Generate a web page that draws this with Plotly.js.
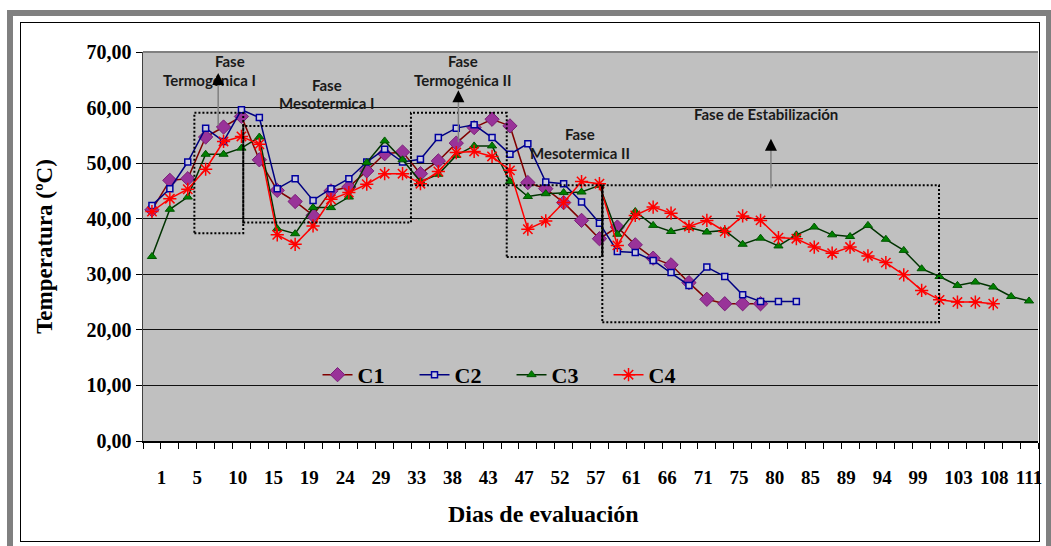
<!DOCTYPE html>
<html><head><meta charset="utf-8">
<script src="https://cdn.plot.ly/plotly-3.0.1.min.js"></script>
<style>
html,body{margin:0;padding:0;background:#fff;}
#wrap{position:relative;width:1051px;height:546px;overflow:hidden;}
#chart{position:absolute;left:0;top:0;width:1051px;height:546px;}
.frame1{position:absolute;left:7px;top:10px;width:1045px;height:545px;border:6px solid #808080;box-sizing:border-box;pointer-events:none;}
.frame2{position:absolute;left:20px;top:22px;width:1020px;height:520px;border:1px solid #000;box-sizing:border-box;pointer-events:none;}
</style></head>
<body><div id="wrap"><div id="chart"></div><div class="frame1"></div><div class="frame2"></div></div>
<script>
// Tick labels shown on the category axis (one label every two evaluations)
const dayLabels = ['1','5','10','15','19','24','29','33','38','43','47','52','57','61','66','71','75','80','85','89','94','99','103','108','111'];
const seriesNames = ['C1','C2','C3','C4'];
// Temperature (ºC) per evaluation
const c1 = [41.6,46.9,47.2,54.7,56.5,58.4,50.6,45.1,43.1,40.6,45.0,45.7,48.6,51.7,52.0,48.1,50.4,53.6,56.4,57.9,56.7,46.5,45.4,42.9,39.7,36.4,38.5,35.3,32.9,31.7,28.5,25.5,24.7,24.7,24.7];
const c2 = [42.4,45.4,50.2,56.3,53.9,59.6,58.2,45.4,47.2,43.3,45.4,47.2,50.2,52.5,50.2,50.7,54.6,56.3,56.9,54.6,51.6,53.5,46.6,46.3,43.0,39.2,34.1,33.9,32.5,30.3,28.0,31.3,29.6,26.3,25.1,25.1,25.1];
const c3 = [33.2,41.7,43.9,51.6,51.6,52.7,54.7,38.2,37.3,42.0,42.0,43.9,50.1,54.0,50.6,46.7,48.0,51.4,53.1,53.1,46.7,44.0,44.5,44.7,44.8,46.0,37.2,41.3,38.8,37.7,38.4,37.6,37.9,35.4,36.5,35.1,37.1,38.5,37.1,36.8,38.8,36.3,34.3,31.0,29.6,28.0,28.6,27.7,26.0,25.2];
const c4 = [41.3,43.6,45.3,48.9,53.9,54.8,53.4,37.1,35.4,38.7,43.5,44.7,46.2,48.1,48.1,46.3,48.5,51.9,52.1,51.2,48.7,38.1,39.6,42.9,46.7,46.3,35.2,40.6,42.1,41.0,38.6,39.7,37.7,40.5,39.7,36.6,36.4,34.9,33.8,34.9,33.3,32.1,29.9,27.1,25.4,25.0,25.0,24.7];

const nCats = dayLabels.length * 2;
const idx = arr => arr.map((v, i) => i);
const tickvals = dayLabels.map((d, i) => 2 * i + 0.5);

const styles = [
  {line:{color:'#800000',width:1.5}, marker:{symbol:'diamond',size:11,color:'#993399',line:{color:'#7a1f78',width:1}}},
  {line:{color:'#000080',width:1.5}, marker:{symbol:'square',size:6,color:'#c9c9dd',line:{color:'#0000a0',width:1.5}}},
  {line:{color:'#003300',width:1.5}, marker:{symbol:'triangle-up',size:8,color:'#008000',line:{color:'#005500',width:1}}},
  {line:{color:'#ff0000',width:1.5}, marker:{symbol:'asterisk-open',size:11,color:'#ff0000',line:{color:'#ff0000',width:1.5}}}
];
const data = [c1,c2,c3,c4].map((ys, k) => ({
  type:'scatter', mode:'lines+markers', name:seriesNames[k],
  x: idx(ys), y: ys, line: styles[k].line, marker: styles[k].marker, hoverinfo:'skip'
}));

const boxes = [
  [2.37,5.1,37.4,59.05],
  [5.1,14.47,39.3,56.7],
  [14.47,19.82,46.0,59.05],
  [19.82,25.16,33.1,46.0],
  [25.16,43.97,21.35,46.0]
];
const shapes = boxes.map(b => ({type:'rect', xref:'x', yref:'y', x0:b[0], x1:b[1], y0:b[2], y1:b[3],
  line:{color:'#000', width:2, dash:'2px,2px'}, fillcolor:'rgba(0,0,0,0)'}));
shapes.push({type:'line', xref:'x', yref:'y', x0:25.16, x1:25.16, y0:33.1, y1:46.0, line:{color:'#000', width:2}});
shapes.push({type:'line', xref:'paper', yref:'paper', x0:0, x1:1, y0:1, y1:1, line:{color:'#808080', width:2}});

const tf = {family:'Lato, "Open Sans", sans-serif', size:15, color:'#1a1a1a', weight:'bold'};
const texts = [
  [4.36,68.4,'Fase'],[3.24,64.95,'Termogénica I'],
  [9.76,64.05,'Fase'],[9.76,60.74,'Mesotermica I'],
  [17.36,68.4,'Fase'],[17.36,64.95,'Termogénica II'],
  [23.91,55.33,'Fase'],[23.91,51.9,'Mesotermica II'],
  [34.29,58.8,'Fase de Estabilización']
];
const annotations = texts.map(t => ({x:t[0], y:t[1], xref:'x', yref:'y', text:t[2], showarrow:false, font:tf}));
const arrows = [[3.7,66.2,56.5],[17.12,63.1,53.5],[34.58,54.4,45.2]];
arrows.forEach(a => {
  annotations.push({x:a[0], y:a[1]-1.5, ax:a[0], ay:a[2], xref:'x', yref:'y', axref:'x', ayref:'y', text:'', showarrow:true, arrowhead:0, arrowwidth:1.5, arrowcolor:'#808080'});
  annotations.push({x:a[0], y:a[1], xref:'x', yref:'y', ax:0, ay:11, text:'', showarrow:true, arrowhead:2, arrowsize:2.4, arrowwidth:1, arrowcolor:'#000'});
});

const serif = 'Liberation Serif, "Times New Roman", serif';
// x-axis title (placed as in the original, left of centre)
annotations.push({xref:'paper', yref:'paper', x:0.448, y:-0.188, xanchor:'center', yanchor:'middle', showarrow:false,
  text:'Dias de evaluación', font:{family:serif, size:24, color:'#000', weight:'bold'}});

const layout = {
  width:1051, height:546,
  paper_bgcolor:'#fff', plot_bgcolor:'#c0c0c0',
  margin:{l:143, r:13, t:52, b:105},
  separators:',.',
  showlegend:true,
  legend:{orientation:'h', x:0.195, y:0.17, xanchor:'left', yanchor:'middle', bgcolor:'rgba(0,0,0,0)',
    font:{family:serif, size:22, color:'#000', weight:'bold'}, entrywidth:52, entrywidthmode:'pixels', traceorder:'normal'},
  xaxis:{range:[-0.5, nCats - 0.5], tickmode:'array', tickvals:tickvals, ticktext:dayLabels, ticks:'',
    ticklabelposition:'outside right', ticklabelshift:-5, ticklabelstandoff:19, tickangle:0,
    tickfont:{family:serif, size:19, color:'#000', weight:'bold'},
    showgrid:false, zeroline:false, showline:true, linecolor:'#000', linewidth:1.5,
    minor:{tickmode:'linear', tick0:-0.5, dtick:1, ticks:'outside', ticklen:6, tickcolor:'#000', tickwidth:1, showgrid:false}},
  yaxis:{range:[0,70], dtick:10, tick0:0, tickformat:'.2f', ticks:'outside', ticklen:6, tickcolor:'#000',
    showgrid:true, gridcolor:'#111', gridwidth:1, zeroline:false, showline:true, linecolor:'#404040', linewidth:1.5,
    tickfont:{family:serif, size:20, color:'#000', weight:'bold'},
    title:{text:'Temperatura (ºC)', font:{family:serif, size:23, color:'#000', weight:'bold'}, standoff:27}},
  shapes:shapes, annotations:annotations
};
Plotly.newPlot('chart', data, layout, {displayModeBar:false, staticPlot:true});
</script>
</body></html>
